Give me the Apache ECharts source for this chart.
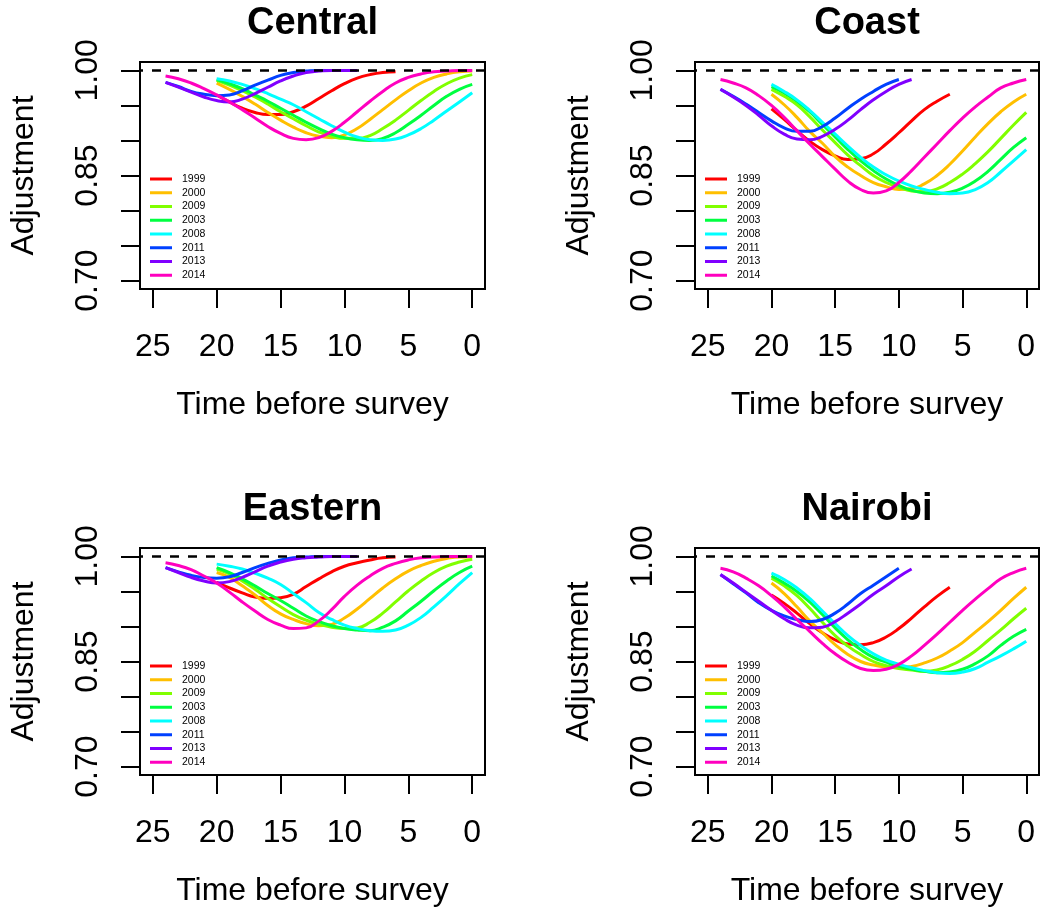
<!DOCTYPE html>
<html><head><meta charset="utf-8">
<script src="https://cdn.jsdelivr.net/npm/echarts@6/dist/echarts.min.js"></script>
<style>html,body{margin:0;padding:0;background:#fff}#c{width:1050px;height:921px}</style>
</head><body><div id="c"></div>
<script>
// ---------- data ----------
const regions = ['Central', 'Coast', 'Eastern', 'Nairobi'];
const years = ['1999', '2000', '2009', '2003', '2008', '2011', '2013', '2014'];
const colors = ['#FF0000', '#FFBF00', '#80FF00', '#00FF40', '#00FFFF', '#0040FF', '#8000FF', '#FF00BF'];
// each series starts at this "time before survey" and steps by -1
const startTimes = [20, 20, 20, 20, 20, 24, 24, 24];
const xTicks = [0, 5, 10, 15, 20, 25];
const yTicks = [0.70, 0.75, 0.80, 0.85, 0.90, 0.95, 1.00];
const yLabels = [0.70, 0.85, 1.00];
const refLine = 1.0;

const centralVals = [
  [0.965,0.955,0.946,0.940,0.937,0.937,0.941,0.949,0.960,0.971,0.981,0.989,0.994,0.997,0.998],
  [0.982,0.973,0.963,0.952,0.940,0.929,0.919,0.911,0.906,0.904,0.908,0.917,0.930,0.944,0.958,0.971,0.982,0.990,0.995,0.998,0.999],
  [0.986,0.979,0.971,0.962,0.952,0.941,0.931,0.921,0.912,0.906,0.903,0.903,0.907,0.917,0.929,0.943,0.957,0.970,0.981,0.989,0.994],
  [0.987,0.981,0.974,0.965,0.956,0.946,0.936,0.926,0.917,0.909,0.904,0.901,0.900,0.903,0.911,0.923,0.936,0.950,0.963,0.973,0.980],
  [0.988,0.985,0.980,0.974,0.967,0.959,0.951,0.941,0.931,0.921,0.912,0.905,0.901,0.900,0.902,0.908,0.917,0.929,0.942,0.955,0.968],
  [0.983,0.977,0.970,0.966,0.964,0.965,0.971,0.979,0.986,0.993,0.997,0.999,1.000,1.000,1.000],
  [0.983,0.976,0.969,0.962,0.957,0.955,0.959,0.967,0.976,0.985,0.992,0.997,0.999,1.000,1.000,1.000],
  [0.992,0.988,0.982,0.974,0.965,0.955,0.944,0.932,0.920,0.910,0.903,0.901,0.904,0.913,0.926,0.941,0.956,0.970,0.982,0.990,0.995,0.998,0.999,1.000,1.000]
];
const coastVals = [
  [0.945,0.930,0.914,0.899,0.887,0.878,0.873,0.874,0.881,0.895,0.911,0.928,0.944,0.956,0.966],
  [0.966,0.951,0.933,0.913,0.896,0.877,0.862,0.850,0.840,0.834,0.830,0.831,0.838,0.850,0.866,0.885,0.905,0.924,0.941,0.955,0.966],
  [0.973,0.963,0.951,0.934,0.915,0.897,0.879,0.864,0.850,0.840,0.833,0.828,0.827,0.831,0.840,0.852,0.867,0.884,0.903,0.922,0.940],
  [0.977,0.968,0.956,0.941,0.923,0.905,0.887,0.871,0.857,0.845,0.836,0.829,0.825,0.824,0.826,0.832,0.842,0.856,0.873,0.890,0.904],
  [0.980,0.970,0.958,0.943,0.926,0.909,0.892,0.876,0.862,0.851,0.842,0.835,0.830,0.826,0.824,0.825,0.830,0.840,0.855,0.871,0.887],
  [0.973,0.963,0.952,0.940,0.928,0.918,0.913,0.913,0.920,0.932,0.946,0.959,0.970,0.980,0.987],
  [0.973,0.962,0.950,0.936,0.921,0.909,0.902,0.901,0.906,0.916,0.929,0.944,0.958,0.970,0.980,0.987],
  [0.987,0.982,0.975,0.964,0.950,0.933,0.914,0.895,0.877,0.859,0.842,0.830,0.825,0.828,0.840,0.857,0.876,0.895,0.914,0.932,0.948,0.962,0.975,0.982,0.987]
];
const easternVals = [
  [0.963,0.955,0.948,0.942,0.940,0.941,0.946,0.957,0.968,0.978,0.986,0.991,0.995,0.998,0.999],
  [0.977,0.970,0.958,0.945,0.930,0.918,0.910,0.904,0.901,0.903,0.912,0.925,0.940,0.955,0.968,0.979,0.987,0.993,0.997,0.999,0.999],
  [0.982,0.975,0.965,0.953,0.940,0.928,0.917,0.909,0.903,0.899,0.897,0.898,0.906,0.919,0.935,0.951,0.965,0.977,0.986,0.992,0.996],
  [0.984,0.977,0.968,0.958,0.947,0.937,0.926,0.915,0.907,0.901,0.897,0.895,0.894,0.899,0.908,0.922,0.936,0.951,0.965,0.977,0.986],
  [0.989,0.986,0.982,0.976,0.969,0.960,0.947,0.934,0.920,0.910,0.902,0.897,0.894,0.893,0.895,0.902,0.913,0.928,0.944,0.961,0.977],
  [0.984,0.978,0.973,0.970,0.969,0.971,0.977,0.984,0.990,0.995,0.998,0.999,1.000,1.000,1.000],
  [0.984,0.977,0.970,0.965,0.962,0.964,0.970,0.978,0.986,0.992,0.996,0.998,0.999,1.000,1.000,1.000],
  [0.991,0.987,0.981,0.972,0.962,0.949,0.935,0.922,0.910,0.902,0.897,0.898,0.908,0.924,0.943,0.959,0.972,0.983,0.990,0.995,0.998,0.999,1.000,1.000,1.000]
];
const nairobiVals = [
  [0.945,0.933,0.919,0.904,0.891,0.881,0.875,0.874,0.877,0.885,0.897,0.912,0.928,0.943,0.956],
  [0.962,0.947,0.928,0.908,0.891,0.874,0.860,0.850,0.845,0.842,0.841,0.843,0.848,0.855,0.865,0.877,0.892,0.907,0.923,0.940,0.956],
  [0.969,0.958,0.944,0.926,0.906,0.887,0.872,0.860,0.850,0.844,0.840,0.838,0.836,0.838,0.844,0.853,0.865,0.880,0.895,0.911,0.926],
  [0.972,0.962,0.950,0.935,0.917,0.898,0.881,0.867,0.856,0.849,0.843,0.839,0.836,0.834,0.835,0.839,0.847,0.858,0.873,0.886,0.896],
  [0.976,0.967,0.955,0.940,0.922,0.904,0.887,0.873,0.861,0.852,0.846,0.841,0.837,0.834,0.833,0.835,0.840,0.849,0.858,0.868,0.879],
  [0.974,0.961,0.948,0.934,0.923,0.915,0.910,0.907,0.910,0.919,0.932,0.947,0.959,0.971,0.983],
  [0.974,0.962,0.949,0.936,0.923,0.911,0.902,0.898,0.899,0.907,0.919,0.932,0.946,0.958,0.971,0.982],
  [0.983,0.978,0.969,0.958,0.944,0.928,0.910,0.893,0.876,0.861,0.849,0.840,0.837,0.839,0.846,0.858,0.873,0.889,0.906,0.923,0.939,0.954,0.968,0.977,0.983]
];
const panelVals = [centralVals, coastVals, easternVals, nairobiVals];

// ---------- layout ----------
const FONT = "'Liberation Sans', Arial, Helvetica, sans-serif";
const gridBoxes = [[140, 62, 345, 227], [695, 62, 344, 227], [140, 548, 345, 227], [695, 548, 344, 227]];
const legendPos = [[150, 173], [705, 173], [150, 660], [705, 660]];

const xExt = (xTicks[xTicks.length - 1] - xTicks[0]) * 0.04;
const yExt = (yTicks[yTicks.length - 1] - yTicks[0]) * 0.04;
const xMin = xTicks[0] - xExt, xMax = xTicks[xTicks.length - 1] + xExt;
const yMin = yTicks[0] - yExt, yMax = yTicks[yTicks.length - 1] + yExt;

const grids = [], xAxes = [], yAxes = [], series = [], legends = [], graphics = [];
gridBoxes.forEach((b, p) => {
  grids.push({left: b[0], top: b[1], width: b[2], height: b[3], show: true,
    borderColor: '#000', borderWidth: 2, backgroundColor: 'transparent',
    containLabel: false, outerBoundsMode: 'none'});
  xAxes.push({type: 'value', gridIndex: p, min: xMin, max: xMax, inverse: true,
    axisLine: {show: false, onZero: false}, splitLine: {show: false},
    axisTick: {show: true, customValues: xTicks, length: 19, lineStyle: {color: '#000', width: 2}},
    axisLabel: {customValues: xTicks, fontSize: 32, color: '#000', margin: 42, fontFamily: FONT},
    name: 'Time before survey', nameLocation: 'middle', nameGap: 100,
    nameTextStyle: {fontSize: 32, color: '#000', fontFamily: FONT}});
  yAxes.push({type: 'value', gridIndex: p, min: yMin, max: yMax,
    axisLine: {show: false, onZero: false}, splitLine: {show: false},
    axisTick: {show: true, customValues: yTicks, length: 19, lineStyle: {color: '#000', width: 2}},
    axisLabel: {customValues: yLabels, rotate: 90, fontSize: 32, color: '#000', margin: 36,
      fontFamily: FONT, formatter: v => v.toFixed(2)},
    name: 'Adjustment', nameLocation: 'middle', nameGap: 100, nameRotate: 90,
    nameTextStyle: {fontSize: 32, color: '#000', fontFamily: FONT}});
  const nSeries = panelVals[p].length;
  panelVals[p].forEach((vals, i) => {
    const s = {type: 'line', name: years[i], xAxisIndex: p, yAxisIndex: p,
      data: vals.map((v, k) => [startTimes[i] - k, v]),
      showSymbol: false, symbol: 'none', smooth: 0.5, silent: true,
      lineStyle: {width: 3, color: colors[i]}, itemStyle: {color: colors[i]}};
    if (i === nSeries - 1) {
      s.markLine = {silent: true, symbol: ['none', 'none'], label: {show: false},
        lineStyle: {color: '#000', type: [9, 9], width: 2.5}, data: [{yAxis: refLine}]};
    }
    series.push(s);
  });
  legends.push({orient: 'vertical', left: legendPos[p][0], top: legendPos[p][1], padding: 0,
    itemWidth: 22, itemHeight: 3, itemGap: 1.75, icon: 'rect', selectedMode: false, data: years,
    textStyle: {fontSize: 10.5, lineHeight: 12, color: '#000', fontFamily: FONT, padding: [0, 0, 0, 5]}});
  graphics.push({type: 'text', x: b[0] + b[2] / 2, y: b[1] - 38,
    style: {text: regions[p], font: 'bold 38px ' + FONT, align: 'center', verticalAlign: 'middle', fill: '#000'}});
});

const chart = echarts.init(document.getElementById('c'), null, {renderer: 'canvas', width: 1050, height: 921});
chart.setOption({
  animation: false, backgroundColor: '#fff',
  grid: grids, xAxis: xAxes, yAxis: yAxes, series: series, legend: legends, graphic: graphics
});
</script></body></html>
